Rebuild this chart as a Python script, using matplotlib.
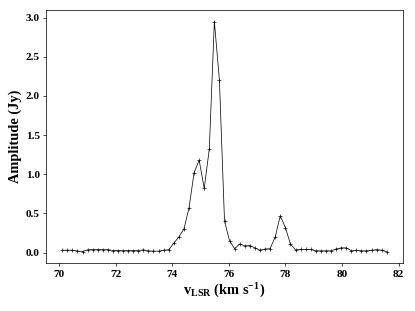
import matplotlib
matplotlib.use('Agg')
import matplotlib.pyplot as plt

plt.rcParams['font.family'] = ['Liberation Serif', 'DejaVu Serif']
plt.rcParams['font.weight'] = 'bold'
plt.rcParams['mathtext.fontset'] = 'custom'
plt.rcParams['mathtext.rm'] = 'Liberation Serif:bold'
plt.rcParams['mathtext.bf'] = 'Liberation Serif:bold'
plt.rcParams['mathtext.it'] = 'Liberation Serif:bold'

# velocity channels (km/s)
vel = [70.106, 70.285, 70.465, 70.644, 70.823, 71.003, 71.182, 71.361, 71.540,
       71.720, 71.899, 72.078, 72.258, 72.437, 72.616, 72.796, 72.975, 73.154,
       73.333, 73.513, 73.692, 73.871, 74.051, 74.230, 74.409, 74.589, 74.768,
       74.947, 75.126, 75.306, 75.485, 75.664, 75.844, 76.023, 76.202, 76.382,
       76.561, 76.740, 76.919, 77.099, 77.278, 77.457, 77.637, 77.816, 77.995,
       78.175, 78.354, 78.533, 78.712, 78.892, 79.071, 79.250, 79.430, 79.609,
       79.788, 79.968, 80.147, 80.326, 80.505, 80.685, 80.864, 81.043, 81.223,
       81.402, 81.581]

# amplitude (Jy)
amp = [0.030, 0.030, 0.030, 0.020, 0.013, 0.035, 0.038, 0.038, 0.038,
       0.038, 0.026, 0.026, 0.026, 0.026, 0.026, 0.026, 0.035, 0.022,
       0.018, 0.018, 0.030, 0.035, 0.120, 0.200, 0.300, 0.570, 1.020,
       1.180, 0.820, 1.320, 2.950, 2.200, 0.400, 0.150, 0.050, 0.110,
       0.085, 0.090, 0.060, 0.030, 0.045, 0.050, 0.200, 0.470, 0.320,
       0.110, 0.035, 0.040, 0.040, 0.040, 0.022, 0.022, 0.022, 0.022,
       0.045, 0.060, 0.060, 0.025, 0.028, 0.022, 0.022, 0.030, 0.037,
       0.030, 0.010]

fig = plt.figure(figsize=(415 / 64.84, 311 / 64.84), dpi=64.84)
ax = fig.add_axes([46 / 415, 1 - 263.3 / 311, 357 / 415, 253.3 / 311])

ax.plot(vel, amp, color='black', linewidth=0.8, marker='+', markersize=4,
        markeredgewidth=0.7)

ax.set_xlabel(r'$\mathregular{v_{LSR}}$ (km s$^{\mathregular{-1}}$)', fontsize=16, fontweight='bold')
ax.set_ylabel('Amplitude (Jy)', fontsize=16, fontweight='bold')
ax.tick_params(labelsize=12.5)
for lab in ax.get_xticklabels() + ax.get_yticklabels():
    lab.set_fontweight('bold')

fig.savefig('out.png', dpi=64.84)
